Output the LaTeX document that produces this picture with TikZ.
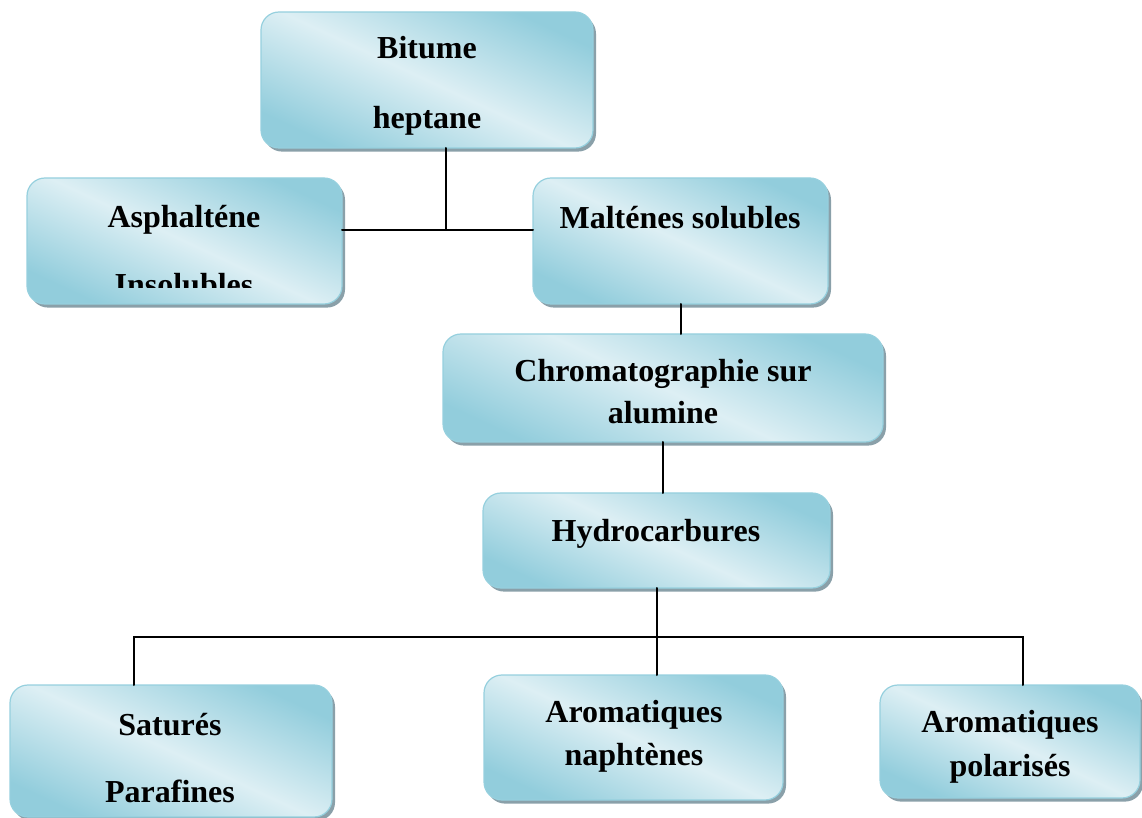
\documentclass[tikz,border=0pt]{standalone}
\usepackage{fontspec}
\setmainfont{Liberation Serif}
\usetikzlibrary{shadows}

\begin{document}
\begin{tikzpicture}
		[x=0.5pt,y=-0.5pt,line cap=round,
		%Styles
		panel/.style={draw=boxedge,line width=0.6pt,rounded corners=9pt,
			top color=boxdark,bottom color=boxdark,middle color=boxlight,shading angle=-25,
			drop shadow={shadow xshift=1.5pt,shadow yshift=-1.8pt,fill=boxshadow,opacity=.9},
			inner sep=0pt,outer sep=0pt},
		caption/.style={align=center,inner sep=0pt,font=\bfseries\fontsize{16}{19.2}\selectfont},
		link/.style={line width=1pt,black}
		]
		
		%Colors
		\definecolor{boxdark}{RGB}{146,205,220}
		\definecolor{boxlight}{RGB}{221,239,244}
		\definecolor{boxedge}{RGB}{150,208,222}
		\definecolor{boxshadow}{RGB}{125,150,160}
		
		\useasboundingbox (0,0) rectangle (1142,818);
		
		%The boxes
		\node[panel,minimum width=166pt,minimum height=68pt] (bitume) at (427,80) {};
		\node[panel,minimum width=157.5pt,minimum height=63pt] (asph) at (184.5,241) {};
		\node[panel,minimum width=147.5pt,minimum height=63pt] (malt) at (680.5,241) {};
		\node[panel,minimum width=220pt,minimum height=54pt] (chrom) at (663,388) {};
		\node[panel,minimum width=173.5pt,minimum height=47.5pt] (hydro) at (656.5,540.5) {};
		\node[panel,minimum width=161pt,minimum height=66pt] (sat) at (171,751) {};
		\node[panel,minimum width=149.5pt,minimum height=62.5pt] (naph) at (633.5,737.5) {};
		\node[panel,minimum width=130pt,minimum height=56.5pt] (polar) at (1010,741.5) {};
		
		%The texts
		\node[caption] (bitumeT) at (427,86) {Bitume\\[15.8pt]heptane};
		\node[caption] (asphT) at (184,220) {Asphalténe};
		\begin{scope}
			\clip (27,178) rectangle (342,288);
			\node[caption] (insol) at (184,285) {Insolubles};
		\end{scope}
		\node[caption] (maltT) at (680,218) {Malténes solubles};
		\node[caption] (chromT) at (663,392) {Chromatographie sur\\[1.8pt]alumine};
		\node[caption] (hydroT) at (656,534) {Hydrocarbures};
		\node[caption] (satT) at (170,758) {Saturés\\[14.3pt]Parafines};
		\node[caption] (naphT) at (634,736) {Aromatiques\\[2.3pt]naphtènes};
		\node[caption] (polarT) at (1010,747) {Aromatiques\\[2.5pt]polarisés};
		
		%The links
		\coordinate (split) at (446,230);
		\coordinate (fork) at (657,637);
		\coordinate (forkL) at (134,637);
		\coordinate (forkR) at (1023,637);
		
		\draw[link] (bitume.south -| split) -- (split);
		\draw[link] (asph.east |- split) -- (malt.west |- split);
		\draw[link] (malt.south) -- (chrom.north -| malt.south);
		\draw[link] (chrom.south) -- (hydro.north -| chrom.south);
		\draw[link] (hydro.south -| fork) -- (fork);
		\draw[link] (sat.north -| forkL) -- (forkL) -- (forkR) -- (polar.north -| forkR);
		\draw[link] (fork) -- (naph.north -| fork);
	\end{tikzpicture}
\end{document}
